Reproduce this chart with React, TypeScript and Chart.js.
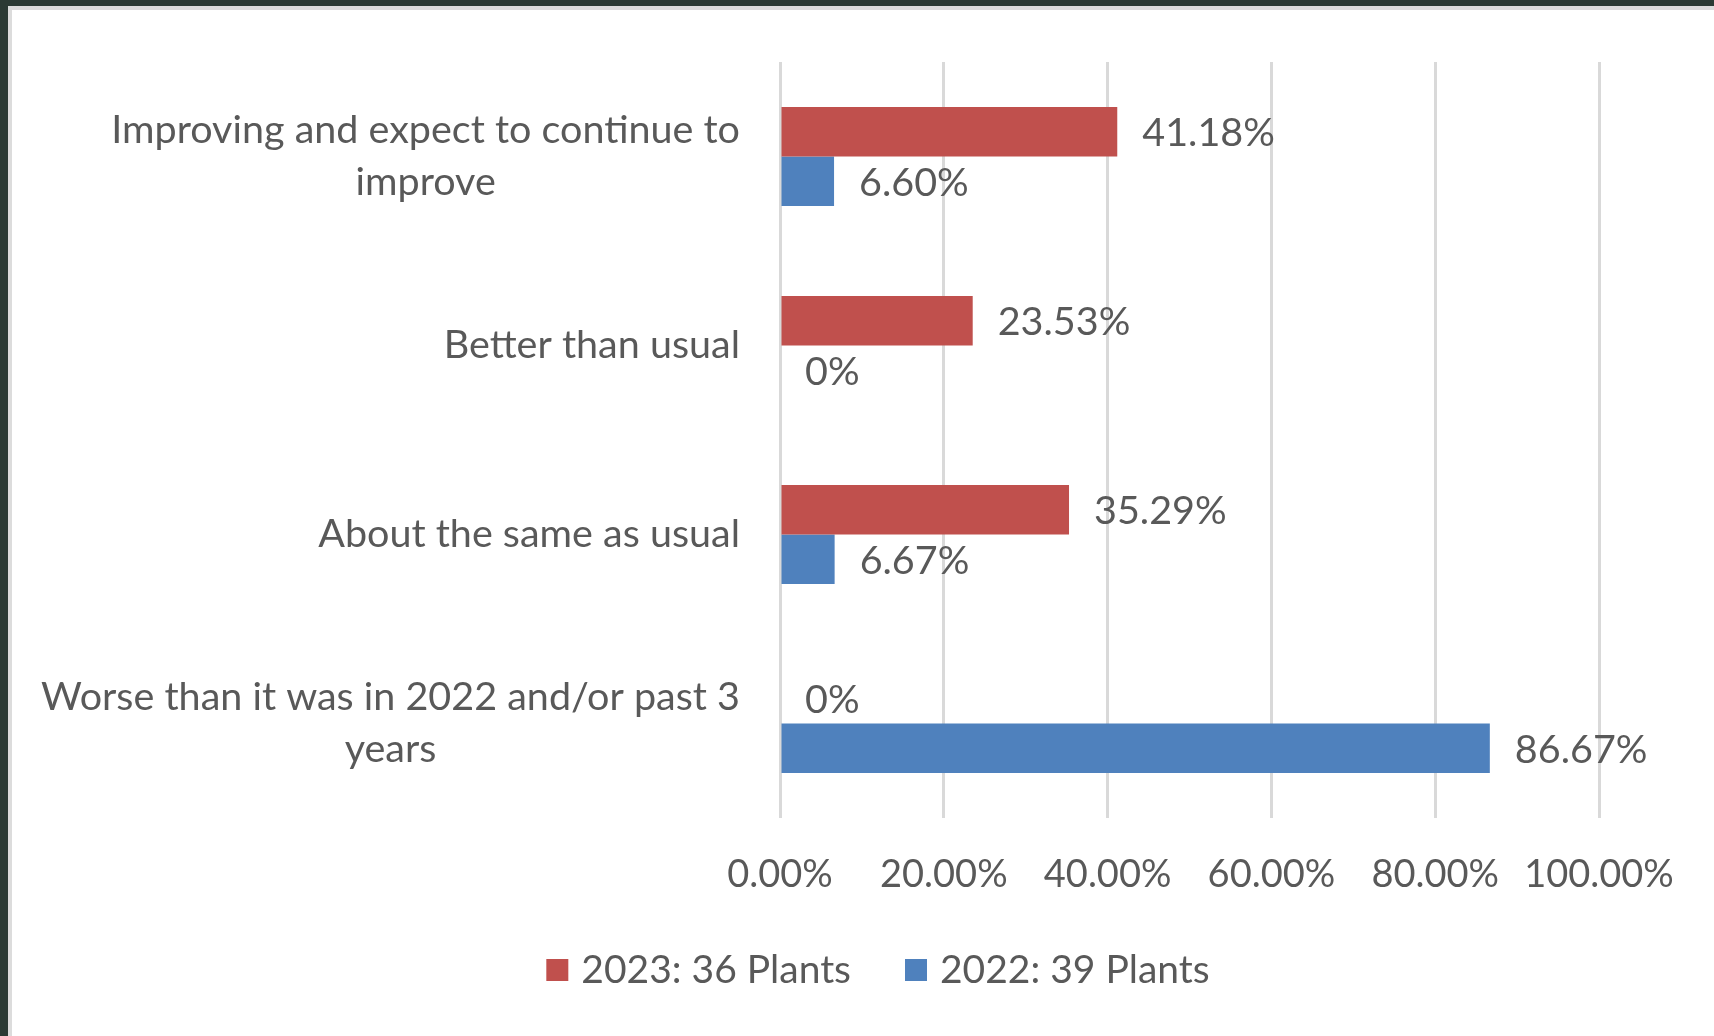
import React, { useEffect, useRef } from "react";
import { Chart, registerables } from "chart.js";

Chart.register(...registerables);

// ---- data ----
const categories: (string | string[])[] = [
  ["Improving and expect to continue to", "improve"],
  "Better than usual",
  "About the same as usual",
  ["Worse than it was in 2022 and/or past 3", "years"],
];
const series2023: number[] = [41.18, 23.53, 35.29, 0];
const series2022: number[] = [6.6, 0, 6.67, 86.67];
const seriesLabels: string[] = ["2023: 36 Plants", "2022: 39 Plants"];
const seriesColors: string[] = ["#C0504D", "#4F81BD"];
const xTickValues: number[] = [0, 20, 40, 60, 80, 100];

// ---- style ----
const W = 1714;
const H = 1036;
const FONT = "Lato, 'Open Sans', sans-serif";
const TEXT = "#595959";
const CAT_FONT = 39.5;
const CAT_LINE = 52;
const TICK_FONT = 38;
const DATA_FONT = 39.5;
const LEGEND_FONT = 39;

const fmtData = (v: number) => (v === 0 ? "0%" : v.toFixed(2) + "%");

const yLabelsPlugin = {
  id: "yLabelsCentered",
  afterDraw(chart: any) {
    const ctx = chart.ctx;
    const ys = chart.scales.y;
    const right = chart.chartArea.left - 40;
    ctx.save();
    ctx.font = `${CAT_FONT}px ${FONT}`;
    ctx.fillStyle = TEXT;
    ctx.textAlign = "center";
    ctx.textBaseline = "middle";
    (chart.data.labels as (string | string[])[]).forEach((lab, i) => {
      const lines = Array.isArray(lab) ? lab : [lab];
      const w = Math.max(...lines.map((l) => ctx.measureText(l).width));
      const cx = right - w / 2;
      const cy = ys.getPixelForTick(i);
      lines.forEach((l, j) => {
        ctx.fillText(l, cx, cy + (j - (lines.length - 1) / 2) * CAT_LINE);
      });
    });
    ctx.restore();
  },
};

const dataLabelsPlugin = {
  id: "barValueLabels",
  afterDatasetsDraw(chart: any) {
    const ctx = chart.ctx;
    ctx.save();
    ctx.font = `${DATA_FONT}px ${FONT}`;
    ctx.fillStyle = TEXT;
    ctx.textAlign = "left";
    ctx.textBaseline = "middle";
    chart.data.datasets.forEach((ds: any, di: number) => {
      const meta = chart.getDatasetMeta(di);
      meta.data.forEach((el: any, i: number) => {
        const v = ds.data[i] as number;
        ctx.fillText(fmtData(v), el.x + 25, el.y + 2);
      });
    });
    ctx.restore();
  },
};

const legendPlugin = {
  id: "customLegend",
  afterDraw(chart: any) {
    const ctx = chart.ctx;
    const box = 22;
    const gapBoxText = 13;
    const gapItems = 54;
    const cy = 970;
    const centerX = 878;
    ctx.save();
    ctx.font = `${LEGEND_FONT}px ${FONT}`;
    ctx.textBaseline = "middle";
    ctx.textAlign = "left";
    const items = chart.data.datasets.map((ds: any) => ({
      text: ds.label as string,
      color: ds.backgroundColor as string,
      w: ctx.measureText(ds.label).width,
    }));
    const total =
      items.reduce((s: number, it: any) => s + box + gapBoxText + it.w, 0) +
      gapItems * (items.length - 1);
    let x = centerX - total / 2;
    items.forEach((it: any) => {
      ctx.fillStyle = it.color;
      ctx.fillRect(x, cy - box / 2, box, box);
      x += box + gapBoxText;
      ctx.fillStyle = TEXT;
      ctx.fillText(it.text, x, cy);
      x += it.w + gapItems;
    });
    ctx.restore();
  },
};

export default function App() {
  const ref = useRef<HTMLCanvasElement | null>(null);

  useEffect(() => {
    if (!ref.current) return;
    const chart = new Chart(ref.current, {
      type: "bar",
      data: {
        labels: categories as any,
        datasets: [
          {
            label: seriesLabels[0],
            data: series2023,
            backgroundColor: seriesColors[0],
            borderWidth: 0,
          },
          {
            label: seriesLabels[1],
            data: series2022,
            backgroundColor: seriesColors[1],
            borderWidth: 0,
          },
        ],
      },
      options: {
        indexAxis: "y",
        responsive: false,
        animation: false,
        devicePixelRatio: 1,
        datasets: {
          bar: {
            barPercentage: 1,
            categoryPercentage: 0.525,
          },
        },
        layout: {
          padding: { left: 0, right: 115, top: 62, bottom: 1036 - 818 - 100 },
        },
        plugins: {
          legend: { display: false },
          tooltip: { enabled: false },
        },
        scales: {
          x: {
            type: "linear",
            min: 0,
            max: 100,
            afterBuildTicks: (scale: any) => {
              scale.ticks = xTickValues.map((v) => ({ value: v }));
            },
            afterFit: (scale: any) => {
              scale.height = 100;
            },
            grid: {
              color: "#D9D9D9",
              lineWidth: 3,
              drawTicks: false,
            },
            border: { display: false },
            ticks: {
              padding: 34,
              color: TEXT,
              font: { family: FONT, size: TICK_FONT },
              maxRotation: 0,
              autoSkip: false,
              callback: (v: any) => Number(v).toFixed(2) + "%",
            },
          },
          y: {
            type: "category",
            afterFit: (scale: any) => {
              scale.width = 780;
            },
            grid: { display: false },
            border: { display: false },
            ticks: { display: false },
          },
        },
      },
      plugins: [yLabelsPlugin, dataLabelsPlugin, legendPlugin],
    });
    return () => chart.destroy();
  }, []);

  return (
    <div
      style={{
        position: "fixed",
        left: 0,
        top: 0,
        width: W,
        height: H,
        background: "#2B3A34",
        overflow: "hidden",
      }}
    >
      <div
        style={{
          position: "absolute",
          left: 8,
          top: 6,
          right: 0,
          bottom: 0,
          background: "#FFFFFF",
          borderLeft: "4px solid #DCDCDC",
          borderTop: "4px solid #DCDCDC",
        }}
      />
      <canvas
        ref={ref}
        width={W}
        height={H}
        style={{ position: "absolute", left: 0, top: 0, width: W, height: H }}
      />
    </div>
  );
}
